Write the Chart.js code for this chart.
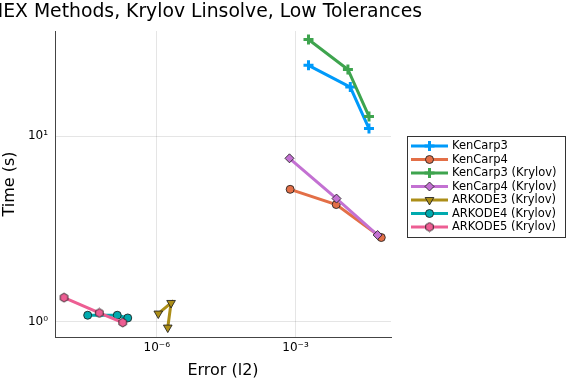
<!DOCTYPE html>
<html>
<head>
<meta charset="utf-8">
<script src="https://cdn.jsdelivr.net/npm/chart.js@4/dist/chart.umd.min.js"></script>
<style>
  html, body { margin: 0; padding: 0; background: #fff; }
  #wrap { width: 576px; height: 384px; }
</style>
</head>
<body>
<div id="wrap"><canvas id="chart" width="576" height="384"></canvas></div>
<script>
// series names
const methods = ['KenCarp3', 'KenCarp4', 'KenCarp3 (Krylov)', 'KenCarp4 (Krylov)',
  'ARKODE3 (Krylov)', 'ARKODE4 (Krylov)', 'ARKODE5 (Krylov)'];

// error (l2) / time (s) per method
const kc3Err = [1.91e-3, 1.53e-2, 3.88e-2];
const kc3Time = [24.1, 18.4, 11.0];
const kc4Err = [7.67e-4, 7.60e-3, 7.16e-2];
const kc4Time = [5.18, 4.29, 2.85];
const kc3kErr = [1.91e-3, 1.36e-2, 3.88e-2];
const kc3kTime = [33.2, 22.9, 12.8];
const kc4kErr = [7.41e-4, 7.71e-3, 5.96e-2];
const kc4kTime = [7.61, 4.62, 2.94];
const ark3Err = [1.08e-6, 2.04e-6, 1.73e-6];
const ark3Time = [1.11, 1.266, 0.933];
const ark4Err = [3.21e-8, 1.40e-7, 2.36e-7];
const ark4Time = [1.087, 1.087, 1.051];
const ark5Err = [9.9e-9, 5.73e-8, 1.84e-7];
const ark5Time = [1.353, 1.118, 0.993];

const xTickValues = [1e-6, 1e-3];
const xTickLabels = ['10\u207B\u2076', '10\u207B\u00B3'];
const yTickValues = [1, 10];
const yTickLabels = ['10\u2070', '10\u00B9'];

const errs = [kc3Err, kc4Err, kc3kErr, kc4kErr, ark3Err, ark4Err, ark5Err];
const times = [kc3Time, kc4Time, kc3kTime, kc4kTime, ark3Time, ark4Time, ark5Time];

const colors = ['#009AFA', '#E36F47', '#3EA44E', '#C371D2', '#AC8E18', '#00AAAE', '#ED5E93'];
const edge = 'rgba(30,30,30,0.85)';

// hexagon marker for ARKODE5
function hexagon(color) {
  const c = document.createElement('canvas');
  c.width = 11; c.height = 11;
  const g = c.getContext('2d');
  g.beginPath();
  for (let k = 0; k < 6; k++) {
    const a = Math.PI / 6 + k * Math.PI / 3;
    const px = 5.5 + 4.4 * Math.cos(a), py = 5.5 + 4.4 * Math.sin(a);
    k === 0 ? g.moveTo(px, py) : g.lineTo(px, py);
  }
  g.closePath();
  g.fillStyle = color; g.fill();
  g.lineWidth = 1; g.strokeStyle = edge; g.stroke();
  return c;
}

const markers = [
  { style: 'cross', radius: 5, border: 3, stroke: colors[0], rot: 0 },
  { style: 'circle', radius: 4, border: 1, stroke: edge, rot: 0 },
  { style: 'cross', radius: 5, border: 3, stroke: colors[2], rot: 0 },
  { style: 'rectRot', radius: 4.5, border: 1, stroke: edge, rot: 0 },
  { style: 'triangle', radius: 5, border: 1, stroke: edge, rot: 180 },
  { style: 'circle', radius: 4, border: 1, stroke: edge, rot: 0 },
  { style: hexagon(colors[6]), radius: 5, border: 1, stroke: edge, rot: 0 }
];

const datasets = methods.map((name, i) => ({
  label: name,
  data: errs[i].map((e, j) => ({ x: e, y: times[i][j] })),
  showLine: true,
  borderColor: colors[i],
  borderWidth: 3,
  pointStyle: markers[i].style,
  pointRadius: markers[i].radius,
  pointRotation: markers[i].rot,
  pointBackgroundColor: colors[i],
  pointBorderColor: markers[i].stroke,
  pointBorderWidth: markers[i].border,
  order: -i
}));

const titlePlugin = {
  id: 'topTitle',
  afterDraw(chart) {
    const ctx = chart.ctx;
    ctx.save();
    ctx.font = '18.8px "DejaVu Sans"';
    ctx.fillStyle = '#000';
    ctx.textAlign = 'right';
    ctx.textBaseline = 'alphabetic';
    ctx.fillText('IMEX Methods, Krylov Linsolve, Low Tolerances', 422, 17);
    ctx.restore();
  }
};

const legendPlugin = {
  id: 'sideLegend',
  afterDraw(chart) {
    const ctx = chart.ctx;
    ctx.save();
    ctx.fillStyle = '#fff';
    ctx.fillRect(407.5, 136.5, 158, 101);
    ctx.strokeStyle = '#333';
    ctx.lineWidth = 1;
    ctx.strokeRect(407.5, 136.5, 158, 101);
    ctx.font = '11.5px "DejaVu Sans"';
    ctx.textBaseline = 'middle';
    ctx.textAlign = 'left';
    methods.forEach((name, i) => {
      const y = 146 + i * 13.5;
      ctx.strokeStyle = colors[i];
      ctx.lineWidth = 3;
      ctx.beginPath();
      ctx.moveTo(411, y);
      ctx.lineTo(448, y);
      ctx.stroke();
      const m = markers[i];
      ctx.fillStyle = colors[i];
      ctx.strokeStyle = m.stroke;
      ctx.lineWidth = m.border;
      Chart.helpers.drawPoint(ctx, { pointStyle: m.style, rotation: m.rot, radius: m.radius, borderWidth: m.border }, 429.5, y);
      ctx.fillStyle = '#000';
      ctx.fillText(name, 452, y + 0.5);
    });
    ctx.restore();
  }
};

new Chart(document.getElementById('chart'), {
  type: 'scatter',
  data: { datasets },
  plugins: [titlePlugin, legendPlugin],
  options: {
    responsive: false,
    animation: false,
    devicePixelRatio: 1,
    layout: { padding: { left: 0, top: 31, right: 185, bottom: 0 } },
    plugins: { legend: { display: false }, tooltip: { enabled: false } },
    scales: {
      x: {
        type: 'logarithmic',
        min: Math.pow(10, -8.2),
        max: Math.pow(10, -0.935),
        afterBuildTicks: s => { s.ticks = xTickValues.map(v => ({ value: v })); },
        afterFit: s => { s.height = 47; },
        ticks: {
          autoSkip: false,
          maxRotation: 0,
          padding: 4,
          color: '#000',
          font: { family: 'DejaVu Sans', size: 12 },
          callback: v => xTickLabels[xTickValues.indexOf(v)] ?? ''
        },
        grid: { color: 'rgba(0,0,0,0.1)', lineWidth: 1, drawTicks: false },
        border: { display: true, color: '#444', width: 1 },
        title: { display: true, text: 'Error (l2)', color: '#000', font: { family: 'DejaVu Sans', size: 16 }, padding: { top: 4, bottom: 4 } }
      },
      y: {
        type: 'logarithmic',
        min: 0.83,
        max: 36.9,
        afterBuildTicks: s => { s.ticks = yTickValues.map(v => ({ value: v })); },
        afterFit: s => { s.width = 55; },
        ticks: {
          autoSkip: false,
          padding: 7,
          color: '#000',
          font: { family: 'DejaVu Sans', size: 12 },
          callback: v => yTickLabels[yTickValues.indexOf(v)] ?? ''
        },
        grid: { color: 'rgba(0,0,0,0.1)', lineWidth: 1, drawTicks: false },
        border: { display: true, color: '#444', width: 1 },
        title: { display: true, text: 'Time (s)', color: '#000', font: { family: 'DejaVu Sans', size: 16 }, padding: { top: 0, bottom: 4 } }
      }
    }
  }
});
</script>
</body>
</html>
